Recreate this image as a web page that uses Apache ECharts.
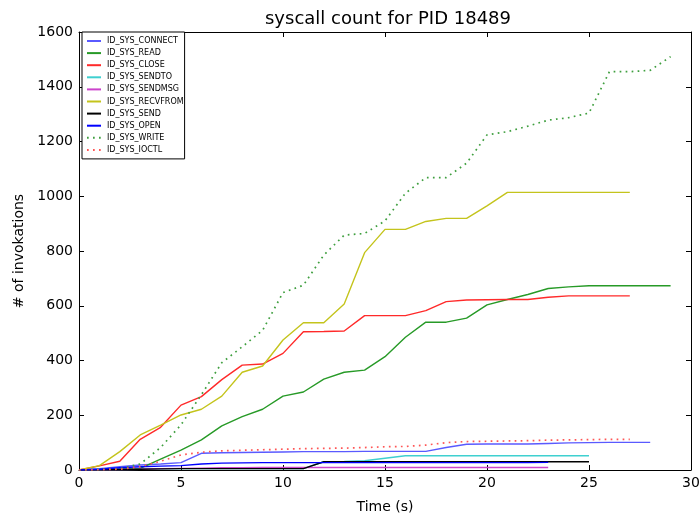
<!DOCTYPE html>
<html>
<head>
<meta charset="utf-8">
<script src="https://cdn.jsdelivr.net/npm/echarts@6/dist/echarts.min.js"></script>
<style>
  html, body { margin: 0; padding: 0; background: #fff; }
  #main { width: 700px; height: 515px; }
</style>
</head>
<body>
<div id="main"></div>
<script>
// values per second (index = time in s)
var connectData  = [0, 5, 12, 18, 22, 27, 61, 63, 64, 65, 66, 67, 67, 67, 68, 68, 68, 68, 82, 94, 95, 95, 95, 97, 99, 100, 101, 101, 101];
var readData     = [0, 2, 4, 6, 40, 73, 110, 161, 195, 222, 270, 285, 332, 357, 365, 414, 485, 540, 540, 555, 603, 623, 641, 663, 669, 673, 673, 673, 673, 673];
var closeData    = [0, 15, 32, 112, 156, 237, 268, 330, 383, 387, 426, 505, 506, 508, 564, 564, 564, 582, 615, 621, 622, 623, 623, 631, 636, 636, 636, 636];
var sendtoData   = [0, 1, 2, 3, 4, 5, 5, 5, 5, 5, 5, 5, 30, 31, 34, 43, 52, 52, 52, 52, 52, 52, 52, 52, 52, 52];
var sendmsgData  = [0, 1, 2, 3, 5, 6, 7, 8, 8, 9, 9, 9, 9, 9, 9, 9, 9, 9, 9, 9, 9, 9, 9, 9];
var recvfromData = [0, 16, 67, 128, 164, 201, 222, 270, 357, 380, 475, 538, 538, 606, 794, 879, 879, 908, 919, 919, 965, 1014, 1014, 1014, 1014, 1014, 1014, 1014];
var sendData     = [0, 1, 2, 3, 4, 5, 5, 5, 5, 5, 5, 5, 30, 30, 30, 30, 30, 30, 30, 30, 30, 30, 30, 30, 30, 30];
var openData     = [0, 3, 8, 12, 14, 16, 22, 25, 26, 27, 27, 27, 27, 27, 27, 27, 27, 27, 27, 27, 27, 27, 27, 28];
var writeData    = [0, 2, 5, 22, 82, 165, 275, 392, 450, 510, 648, 675, 785, 858, 864, 910, 1011, 1068, 1068, 1121, 1224, 1236, 1256, 1278, 1287, 1304, 1455, 1455, 1460, 1510];
var ioctlData    = [0, 1, 3, 12, 32, 55, 65, 70, 72, 74, 76, 78, 79, 80, 82, 85, 86, 91, 100, 104, 105, 106, 107, 109, 110, 111, 112, 112];

var seriesNames = ['ID_SYS_CONNECT', 'ID_SYS_READ', 'ID_SYS_CLOSE', 'ID_SYS_SENDTO', 'ID_SYS_SENDMSG',
                   'ID_SYS_RECVFROM', 'ID_SYS_SEND', 'ID_SYS_OPEN', 'ID_SYS_WRITE', 'ID_SYS_IOCTL'];
var seriesValues = [connectData, readData, closeData, sendtoData, sendmsgData,
                    recvfromData, sendData, openData, writeData, ioctlData];
var seriesColors = ['#5a5aff', '#279a27', '#ff2a2a', '#3fd0d0', '#cc44cc',
                    '#c4c41c', '#000000', '#0000ff', '#3f9f3f', '#ff5555'];
var seriesDotted = [false, false, false, false, false, false, false, false, true, true];

var font = 'DejaVu Sans';

var chart = echarts.init(document.getElementById('main'));

var series = seriesNames.map(function (name, i) {
    return {
        name: name,
        type: 'line',
        symbol: 'none',
        animation: false,
        data: seriesValues[i].map(function (v, t) { return [t, v]; }),
        itemStyle: { color: seriesColors[i] },
        lineStyle: {
            color: seriesColors[i],
            width: seriesDotted[i] ? 1.7 : 1.4,
            type: seriesDotted[i] ? [1.7, 4.3] : 'solid'
        }
    };
});

function frameAxis(pos, show, extra) {
    var a = {
        position: pos,
        type: 'value',
        axisLine: { show: true, onZero: false, lineStyle: { color: '#000', width: 1 } },
        axisTick: { show: true, inside: true, length: 5, lineStyle: { color: '#000' } },
        axisLabel: { show: show, color: '#000', fontSize: 14, fontFamily: font },
        splitLine: { show: false }
    };
    for (var k in extra) a[k] = extra[k];
    return a;
}

var option = {
    animation: false,
    backgroundColor: '#fff',
    title: {
        text: 'syscall count for PID 18489',
        left: 383,
        textAlign: 'center',
        top: 5,
        textStyle: { fontFamily: font, fontSize: 18, fontWeight: 'normal', color: '#000' }
    },
    legend: {
        orient: 'vertical',
        left: 82,
        top: 32,
        data: seriesNames,
        itemWidth: 14,
        itemHeight: 8,
        itemGap: 4.1,
        padding: [5, 1, 5, 4],
        borderColor: '#000',
        borderWidth: 1,
        backgroundColor: '#fff',
        itemStyle: { opacity: 0 },
        textStyle: { fontFamily: font, fontSize: 8, color: '#000', padding: [0, 0, 0, 1] }
    },
    grid: { left: 79, right: 9, top: 32, bottom: 45, outerBoundsMode: 'none', containLabel: false },
    xAxis: [
        frameAxis('bottom', true, {
            min: 0, max: 30, interval: 5,
            name: 'Time (s)', nameLocation: 'middle', nameGap: 30,
            nameTextStyle: { fontFamily: font, fontSize: 14, color: '#000' },
            axisLabel: { show: true, color: '#000', fontSize: 14, fontFamily: font, margin: 6 }
        }),
        frameAxis('top', false, { min: 0, max: 30, interval: 5 })
    ],
    yAxis: [
        frameAxis('left', true, {
            min: 0, max: 1600, interval: 200,
            name: '# of invokations', nameLocation: 'middle', nameGap: 45,
            nameTextStyle: { fontFamily: font, fontSize: 14, color: '#000' },
            axisLabel: {
                show: true, color: '#000', fontSize: 14, fontFamily: font, margin: 6,
                formatter: function (v) { return String(v); }
            }
        }),
        frameAxis('right', false, { min: 0, max: 1600, interval: 200 })
    ],
    series: series
};

chart.setOption(option);
</script>
</body>
</html>
